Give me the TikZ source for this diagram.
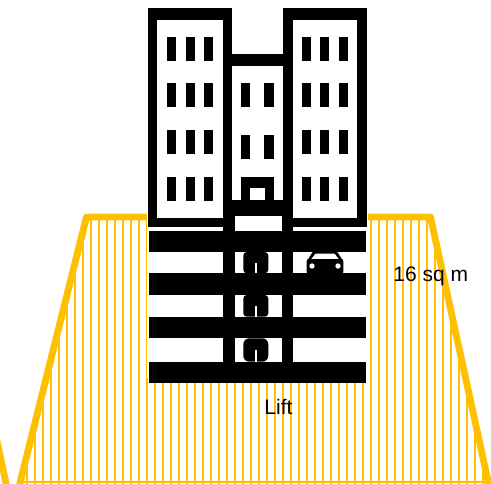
\documentclass[tikz,border=0pt]{standalone}
\usepackage{fontspec}
\setmainfont{Liberation Sans}
\definecolor{amber}{RGB}{255,192,0}
\tikzset{
  hatch/.style={draw=amber, line width=2.1pt},
  edge/.style={draw=amber, line width=6.8pt, line join=round},
  ink/.style={fill=black},
  paper/.style={fill=white},
  label/.style={font=\fontsize{21}{25}\selectfont, inner sep=0pt, anchor=base},
}
\begin{document}
\begin{tikzpicture}[x=1pt,y=-1pt]
\useasboundingbox (0,0) rectangle (491,483);

% hatched floor area
\begin{scope}
  \clip (86.5,217) -- (430.5,217) -- (490,490) -- (18.2,490) -- cycle;
  \foreach \k in {0,...,61} \draw[hatch] ({3+8*\k},205) -- ({3+8*\k},495);
  \draw[draw=amber, line width=1.4pt] (0,481.8) -- (491,481.8);
\end{scope}
% outline of the floor area
\draw[edge] (18.2,490) -- (86.5,217) -- (430.5,217) -- (490,490);
\draw[edge] (-5,432) -- (7.5,490);

% backdrop of the building
\fill[paper] (146.7,0) rectangle (367.5,378);

% middle block and lift shaft
\fill[ink] (222.7,54) rectangle (293.3,383.3);
% towers
\fill[ink] (148.3,8.3) rectangle (231.7,226.7);
\fill[ink] (283.3,8.3) rectangle (366.7,226.7);
\fill[paper] (157.3,20) rectangle (222.7,218.3);
\fill[paper] (292.7,20) rectangle (357.3,218.3);
\fill[paper] (231.7,66) rectangle (283.3,200);

% tower windows
\foreach \y in {36.7,83.3,130,176.7} {
  \foreach \x in {166.7,185.7,204,301.7,320,339}
    \fill[ink] (\x,\y) rectangle ++(9.3,24);
}
% middle block windows
\foreach \y in {83.3,135} {
  \foreach \x in {241,264.3}
    \fill[ink] (\x,\y) rectangle ++(9.3,24);
}
% entrance
\fill[ink] (241,176.7) rectangle (273.7,200);
\fill[paper] (250,188.3) rectangle (265,200);

% lift shaft interior
\fill[paper] (235,216) rectangle (281.7,361.7);

% parking decks
\foreach \t/\b in {230.7/252, 273.3/295, 316.7/338.3, 361.7/383.3}
  \fill[ink] (149,\t) rectangle (366,\b);

% lift cars
\foreach \t/\b/\r in {252/273.3/3.5, 295/316.7/3.5, 338.3/361.7/6} {
  \fill[ink, rounded corners=\r pt] (243.3,\b) -- (243.3,\t) -- (268.3,\t) -- (268.3,\b) -- cycle;
  \fill[paper] (255,{(\t+\b)/2}) rectangle (256.7,\b);
}

% parked car
\fill[ink] (307.5,260) -- (313,251.5) -- (337,251.5) -- (342.5,260) -- cycle;
\fill[paper] (311,259.5) -- (315.5,253.5) -- (334.5,253.5) -- (339,259.5) -- cycle;
\fill[ink, rounded corners=2pt] (306.7,259) rectangle (343.3,274);
\fill[paper] (312,266) circle (2.7);
\fill[paper] (338,266) circle (2.7);

% labels
\node[label] (area) at (430.8,281.7) {16 sq m};
\node[label] (lift) at (278.5,414) {Lift};
\end{tikzpicture}
\end{document}
